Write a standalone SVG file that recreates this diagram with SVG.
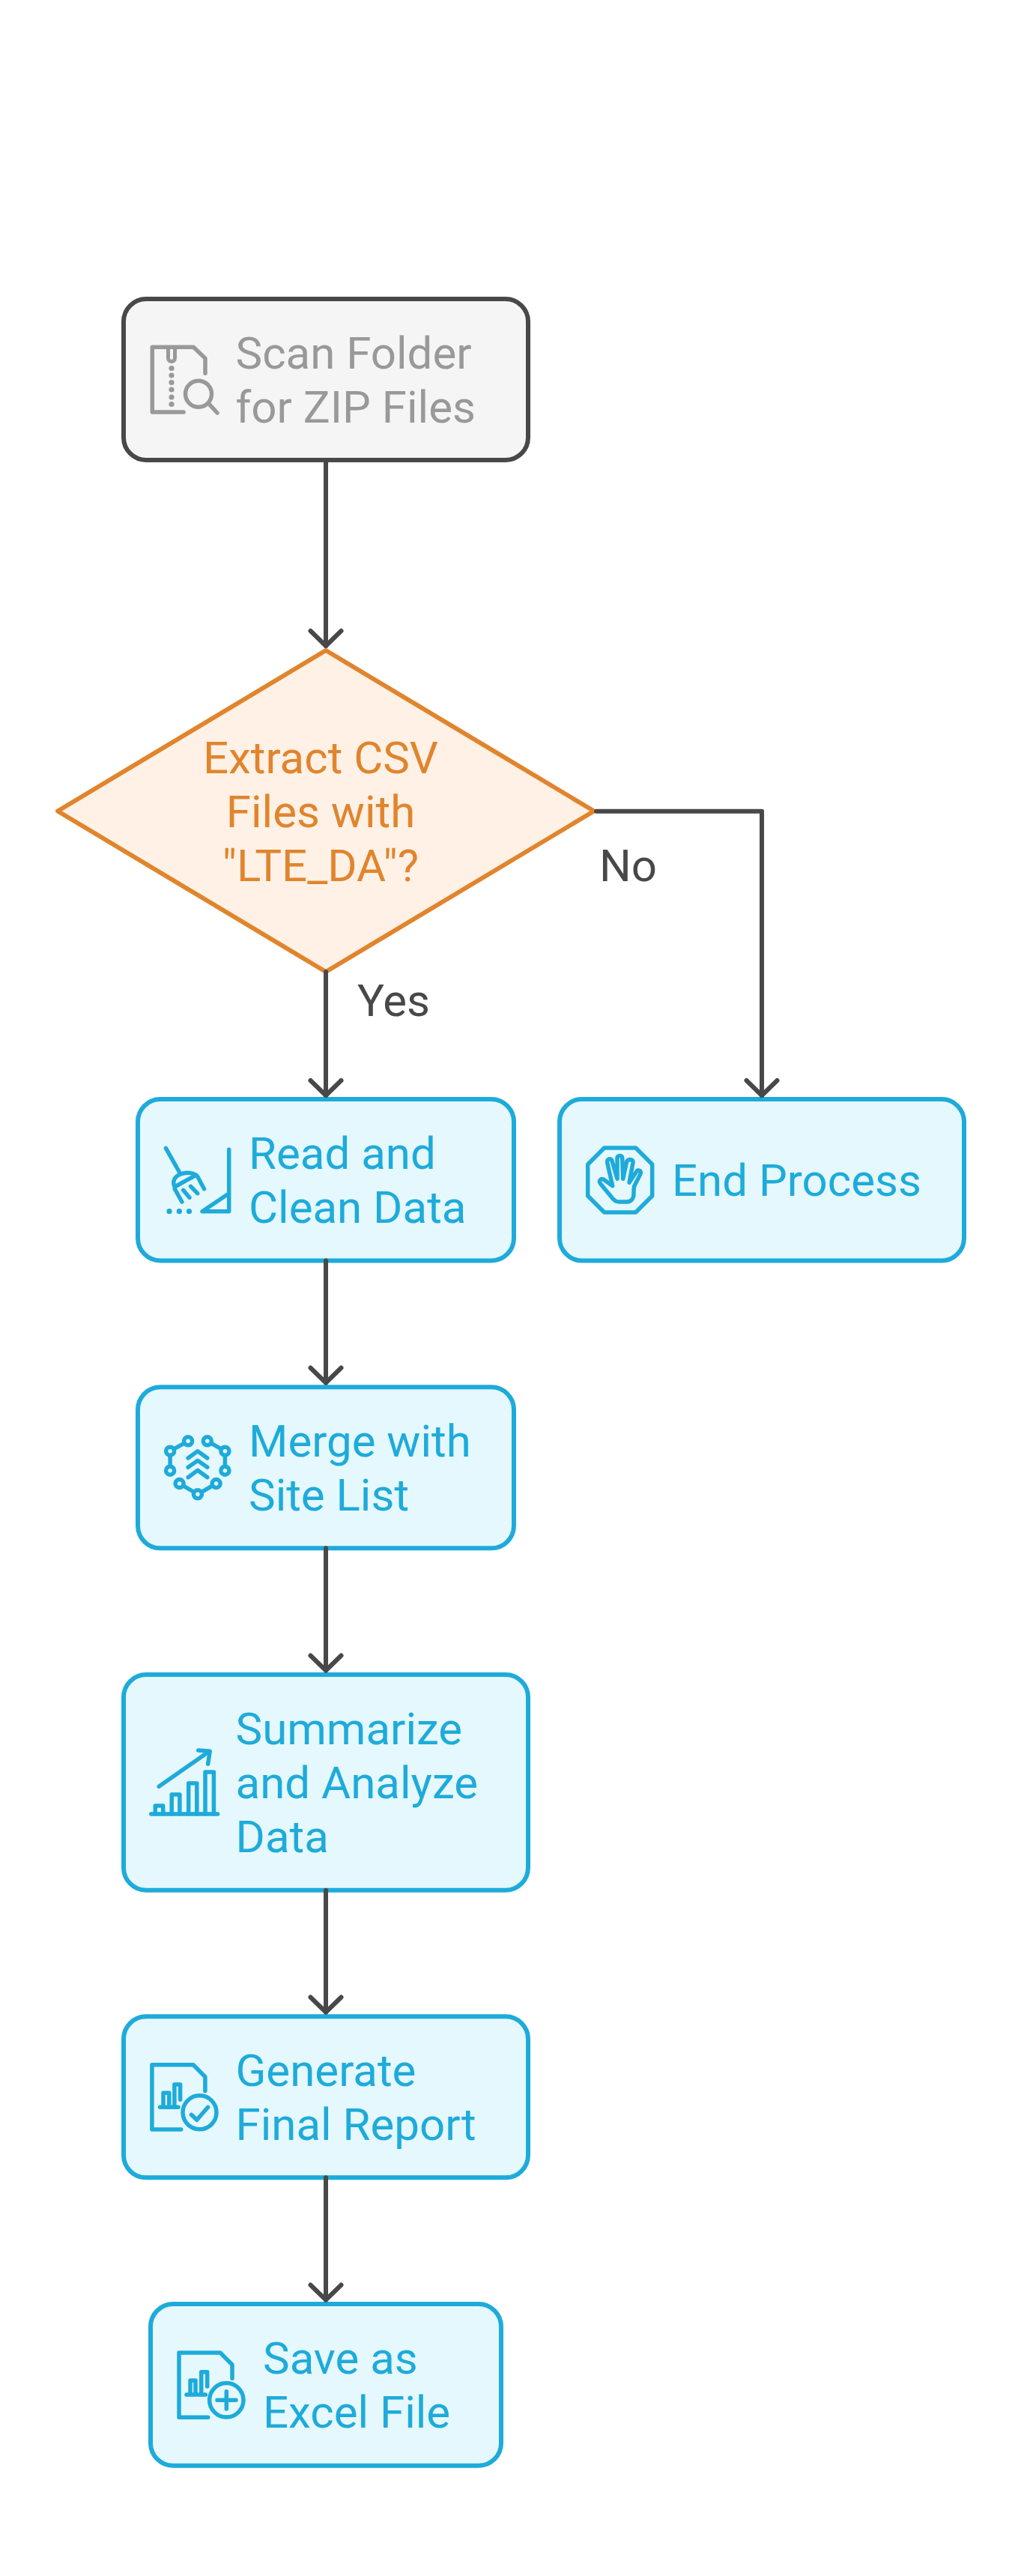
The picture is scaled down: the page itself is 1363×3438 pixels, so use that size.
<svg xmlns="http://www.w3.org/2000/svg" width="1363" height="3438" viewBox="0 0 1363 3438">
  <defs>
    <style>
      .box { stroke-width: 6; }
      .blue { fill: #e5f8fe; stroke: #1eabda; }
      .grey { fill: #f5f5f5; stroke: #484848; }
      .orange { fill: #fff1e5; stroke: #e0852e; stroke-width: 6; stroke-linejoin: round; }
      text { font-family: "Roboto", "Liberation Sans", sans-serif; font-size: 60px; }
      .tb { fill: #1eabda; }
      .tg { fill: #999999; }
      .to { fill: #e0852e; text-anchor: middle; }
      .tl { fill: #484848; }
      .ic { fill: none; stroke-width: 5.5; stroke-linecap: round; stroke-linejoin: round; }
      .icb { stroke: #1eabda; }
      .icg { stroke: #999999; }
      .dotb { fill: #1eabda; }
      .dotg { fill: #999999; }
      .conn { fill: none; stroke: #484848; stroke-width: 6; stroke-linecap: round; stroke-linejoin: round; }
    </style>
    <marker id="arrow" markerUnits="userSpaceOnUse" markerWidth="60" markerHeight="60" viewBox="-30 -30 60 60" refX="0" refY="0" orient="auto">
      <path d="M-20 -20.5L0 0L-20 20.5" fill="none" stroke="#484848" stroke-width="6" stroke-linecap="round" stroke-linejoin="round"/>
    </marker>
  </defs>
  <rect width="1363" height="3438" fill="#ffffff"/>

  <g id="node-scan">
    <rect class="box grey" x="165" y="399" width="540" height="215" rx="30"/>
    <g class="ic icg">
      <path d="M245 550H203.3V463.3H258.3L274 478.3V498.3"/>
      <path d="M224.5 465V478a4.5 4.5 0 0 0 9 0V465" stroke-width="5"/>
      <circle cx="265" cy="525.7" r="17.5"/>
      <path d="M278.3 538.3L290 551"/>
    </g>
    <g class="dotg">
      <circle cx="229" cy="491.5" r="3.6"/><circle cx="229" cy="501" r="3.6"/><circle cx="229" cy="510.5" r="3.6"/><circle cx="229" cy="520" r="3.6"/><circle cx="229" cy="530" r="3.6"/><circle cx="229" cy="539.5" r="3.6"/>
    </g>
    <text class="tg" x="314.5" y="491.5">Scan Folder</text>
    <text class="tg" x="314.5" y="563.5">for ZIP Files</text>
  </g>

  <g id="node-extract">
    <polygon class="orange" points="435,868 793,1082.5 435,1297 77,1082.5"/>
    <text class="to" x="428" y="1032">Extract CSV</text>
    <text class="to" x="428" y="1104">Files with</text>
    <text class="to" x="428" y="1175.5">"LTE_DA"?</text>
  </g>

  <g id="node-read">
    <rect class="box blue" x="184" y="1467" width="502" height="215.5" rx="30"/>
    <g class="ic icb">
      <path d="M221.4 1532.3L240.4 1566"/>
      <path d="M233.2 1584C230 1578 232 1571 240.4 1567.3C246 1565 256 1564 261.8 1568.3Z"/>
      <path d="M233.2 1586.7L242.9 1604M244.6 1588.3L252.9 1598.3M254.6 1583.3L263.6 1592.7M263.6 1570L272.5 1586.7"/>
      <path d="M305.7 1534.3V1616.7H270L305.7 1592.7"/>
    </g>
    <g class="dotb"><circle cx="226" cy="1616.7" r="3.6"/><circle cx="239.3" cy="1616.7" r="3.6"/><circle cx="252.5" cy="1616.7" r="3.6"/></g>
    <text class="tb" x="332" y="1560">Read and</text>
    <text class="tb" x="332" y="1632">Clean Data</text>
  </g>

  <g id="node-end">
    <rect class="box blue" x="747" y="1467" width="540" height="215.5" rx="30"/>
    <g class="ic icb">
      <polygon points="806.7,1532 848.7,1532 870.7,1554 870.7,1596 848.7,1618 806.7,1618 784.7,1596 784.7,1554"/>
      <path d="M817.7 1582.7L805.7 1574C802 1572.5 798.5 1576 801.7 1580L818.3 1600C821 1603 824 1604 826.7 1604H836.7C843 1604 846 1599 846 1593.3C846 1589 846 1586 846.7 1583.3L855 1566.7C856.5 1562 851.5 1560.5 850 1563.3L840 1578.3L845 1551.7C845.5 1547.5 840 1546 836.7 1550L831.7 1573.3L830.7 1545C830 1541.5 825 1541.5 824 1545V1573.3L816.7 1548.3C815 1545.5 810 1546.5 810.7 1551.7Z"/>
    </g>
    <text class="tb" x="897" y="1596">End Process</text>
  </g>

  <g id="node-merge">
    <rect class="box blue" x="184" y="1851.3" width="502" height="215" rx="30"/>
    <g class="ic icb">
      <path d="M251.1 1923.3L227.1 1936.7V1962.7M276.8 1923.3L300.4 1936.7V1962.7M239.6 1980L263.9 1994.3L288.6 1980"/>
      <path d="M251.1 1946L263.9 1936.7L276.8 1946M251.1 1958.3L263.9 1949.3L276.8 1958.3M251.1 1971.7L263.9 1962.3L276.8 1971.7"/>
      <g fill="#e5f8fe">
        <circle cx="227.1" cy="1936.7" r="5.5"/><circle cx="251.1" cy="1923.3" r="5.5"/><circle cx="276.8" cy="1923.3" r="5.5"/><circle cx="300.4" cy="1936.7" r="5.5"/><circle cx="300.4" cy="1962.7" r="5.5"/><circle cx="227.1" cy="1962.7" r="5.5"/><circle cx="239.6" cy="1980" r="5.5"/><circle cx="288.6" cy="1980" r="5.5"/><circle cx="263.9" cy="1994.3" r="5.5"/>
      </g>
    </g>
    <text class="tb" x="332" y="1944">Merge with</text>
    <text class="tb" x="332" y="2016">Site List</text>
  </g>

  <g id="node-summarize">
    <rect class="box blue" x="165" y="2235" width="540" height="287.7" rx="30"/>
    <g class="ic icb">
      <path d="M201.8 2421H290.6"/>
      <path d="M207.3 2421V2410H217.7V2421M229.2 2421V2395H239.9V2421M251.7 2421V2380H262.8V2421M274 2421V2365H285.4V2421"/>
      <path d="M212.2 2384.3L279.5 2337.3M264.7 2336L280.2 2337.3L277.6 2354.3"/>
    </g>
    <text class="tb" x="314.5" y="2328">Summarize</text>
    <text class="tb" x="314.5" y="2400">and Analyze</text>
    <text class="tb" x="314.5" y="2472">Data</text>
  </g>

  <g id="node-generate">
    <rect class="box blue" x="165" y="2691.3" width="540" height="215" rx="30"/>
    <g class="ic icb">
      <path d="M241.7 2842H202.9V2755.7H258L273.9 2771.7V2790.7"/>
      <path d="M213.6 2812.3H238M218 2812V2793.3H225.8V2812M232.9 2812V2782H240.6V2802.3"/>
      <circle cx="266.5" cy="2819.3" r="22.5"/>
      <path d="M255.4 2822.3L262.8 2829.3L277.6 2812.3"/>
    </g>
    <text class="tb" x="314.5" y="2784">Generate</text>
    <text class="tb" x="314.5" y="2856">Final Report</text>
  </g>

  <g id="node-save">
    <rect class="box blue" x="201" y="3075" width="468" height="215.7" rx="30"/>
    <g class="ic icb">
      <path d="M277.7 3226.3H239V3140H294L310 3156V3174.3"/>
      <path d="M249 3196H274.3M254 3196V3177H261V3196M268.7 3196V3165.7H276.7V3185"/>
      <circle cx="302.3" cy="3203.3" r="22.7"/>
      <path d="M290 3203.3H315M302.3 3191.7V3215"/>
    </g>
    <text class="tb" x="351" y="3168">Save as</text>
    <text class="tb" x="351" y="3240">Excel File</text>
  </g>

  <g id="connectors">
    <path class="conn" marker-end="url(#arrow)" d="M435 617V862"/>
    <path class="conn" marker-end="url(#arrow)" d="M435 1297V1462"/>
    <path class="conn" marker-end="url(#arrow)" d="M796 1082.7H1017V1462"/>
    <path class="conn" marker-end="url(#arrow)" d="M435 1682.5V1845.5"/>
    <path class="conn" marker-end="url(#arrow)" d="M435 2066.3V2229.5"/>
    <path class="conn" marker-end="url(#arrow)" d="M435 2522.7V2685.5"/>
    <path class="conn" marker-end="url(#arrow)" d="M435 2906.3V3069.5"/>
  </g>

  <g id="edge-labels">
    <text class="tl" x="477" y="1356">Yes</text>
    <text class="tl" x="800" y="1176">No</text>
  </g>
</svg>
